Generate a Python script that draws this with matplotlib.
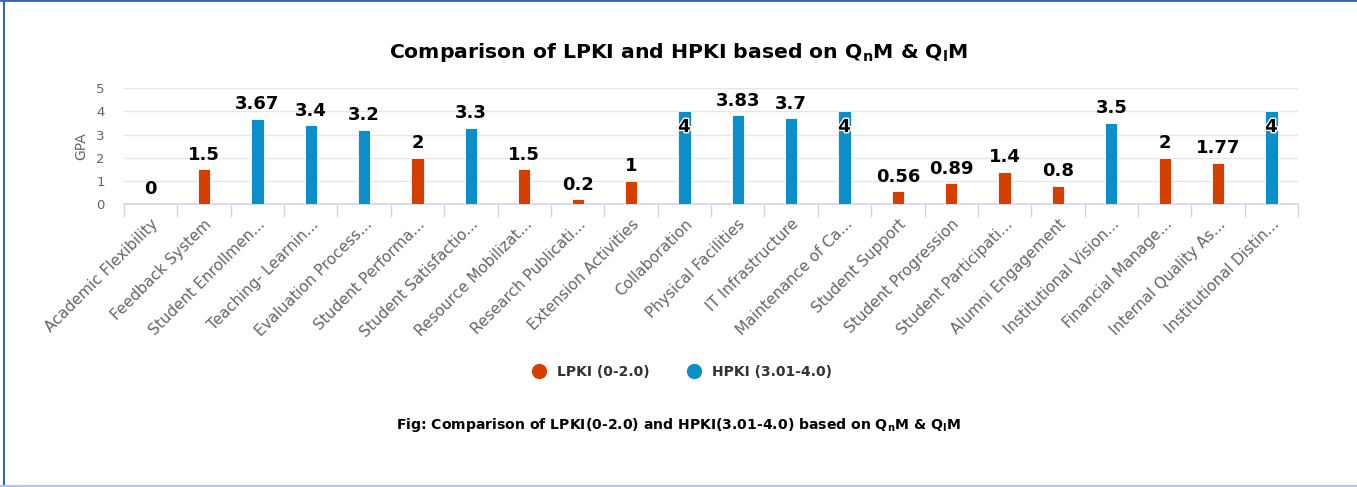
import matplotlib
matplotlib.use("Agg")
import matplotlib.pyplot as plt
import matplotlib.patheffects as pe
from matplotlib.lines import Line2D
import numpy as np

categories = ["Academic Flexibility", "Feedback System", "Student Enrollmen...",
              "Teaching- Learnin...", "Evaluation Process...", "Student Performa...",
              "Student Satisfactio...", "Resource Mobilizat...", "Research Publicati...",
              "Extension Activities", "Collaboration", "Physical Facilities",
              "IT Infrastructure", "Maintenance of Ca...", "Student Support",
              "Student Progression", "Student Participati...", "Alumni Engagement",
              "Institutional Vision...", "Financial Manage...", "Internal Quality As...",
              "Institutional Distin..."]
values = [0, 1.5, 3.67, 3.4, 3.2, 2, 3.3, 1.5, 0.2, 1, 4, 3.83, 3.7, 4,
          0.56, 0.89, 1.4, 0.8, 3.5, 2, 1.77, 4]
groups = ["L", "L", "H", "H", "H", "L", "H", "L", "L", "L", "H", "H", "H", "H",
          "L", "L", "L", "L", "H", "L", "L", "H"]
series_names = {"L": "LPKI (0-2.0)", "H": "HPKI (3.01-4.0)"}
colors = {"L": "#d63f00", "H": "#0a8fc8"}

plt.rcParams['mathtext.fontset'] = 'dejavusans'

fig = plt.figure(figsize=(13.57, 4.87), dpi=100)
ax = fig.add_axes([0.0914, 0.581, 0.8652, 0.238])

x = np.arange(len(categories))
bar_colors = [colors[g] for g in groups]
bars = ax.bar(x, values, width=0.23, color=bar_colors, edgecolor="white", linewidth=0.6, zorder=3)

for xi, v in zip(x, values):
    label = f"{v:g}"
    if v >= 4:
        ax.text(xi, v - 0.68, label, ha="center", va="center", fontsize=13,
                fontweight="bold", color="black", zorder=5,
                path_effects=[pe.withStroke(linewidth=2, foreground="white")])
    else:
        ax.annotate(label, (xi, v), xytext=(0, 4), textcoords="offset points",
                    ha="center", va="bottom", fontsize=13, fontweight="bold",
                    color="black", zorder=5)

ax.set_xlim(-0.5, len(categories) - 0.5)
ax.set_ylim(0, 5)
ax.set_yticks([0, 1, 2, 3, 4, 5])
ax.yaxis.grid(True, color="#e6e6e6", linewidth=1, zorder=0)
ax.set_axisbelow(True)
for s in ["top", "right", "left"]:
    ax.spines[s].set_visible(False)
ax.spines["bottom"].set_color("#ccd6eb")
ax.spines["bottom"].set_linewidth(1.2)
ax.tick_params(axis="y", length=0, labelsize=9.5, labelcolor="#666666", pad=14)
ax.set_ylabel("GPA", color="#666666", fontsize=10, labelpad=6)

ax.set_xticks(x)
ax.set_xticklabels(categories, rotation=45, ha="right", rotation_mode="anchor",
                   fontsize=11, color="#666666")
ax.tick_params(axis="x", length=0, pad=9)
ax.set_xticks(np.arange(-0.5, len(categories), 1.0), minor=True)
ax.tick_params(axis="x", which="minor", length=9, color="#ccd6eb", width=1)

fig.text(0.5, 0.893,
         r"Comparison of LPKI and HPKI based on Q$_\mathbf{n}$M & Q$_\mathbf{l}$M",
         ha="center", va="center", fontsize=14.7, fontweight="bold", color="black")

handles = [Line2D([0], [0], marker="o", linestyle="none", markersize=10,
                  markerfacecolor=colors[k], markeredgecolor=colors[k], label=series_names[k])
           for k in ["L", "H"]]
leg = fig.legend(handles=handles, loc="center", bbox_to_anchor=(0.5, 0.236), ncol=2,
                 frameon=False, handletextpad=0.3, columnspacing=2.2,
                 prop={"weight": "bold", "size": 10})
for t in leg.get_texts():
    t.set_color("#333333")

fig.text(0.5, 0.127,
         r"Fig: Comparison of LPKI(0-2.0) and HPKI(3.01-4.0) based on Q$_\mathbf{n}$M & Q$_\mathbf{l}$M",
         ha="center", va="center", fontsize=10.1, fontweight="bold", color="black")

# figure border
fig.add_artist(Line2D([0, 1], [0.999, 0.999], transform=fig.transFigure, color="#3a62b5", linewidth=2))
fig.add_artist(Line2D([0.003, 0.003], [0, 1], transform=fig.transFigure, color="#3a62b5", linewidth=1.5))
fig.add_artist(Line2D([0, 1], [0.003, 0.003], transform=fig.transFigure, color="#b4c4ea", linewidth=1.5))

fig.savefig("out.png", dpi=100, facecolor="white")
